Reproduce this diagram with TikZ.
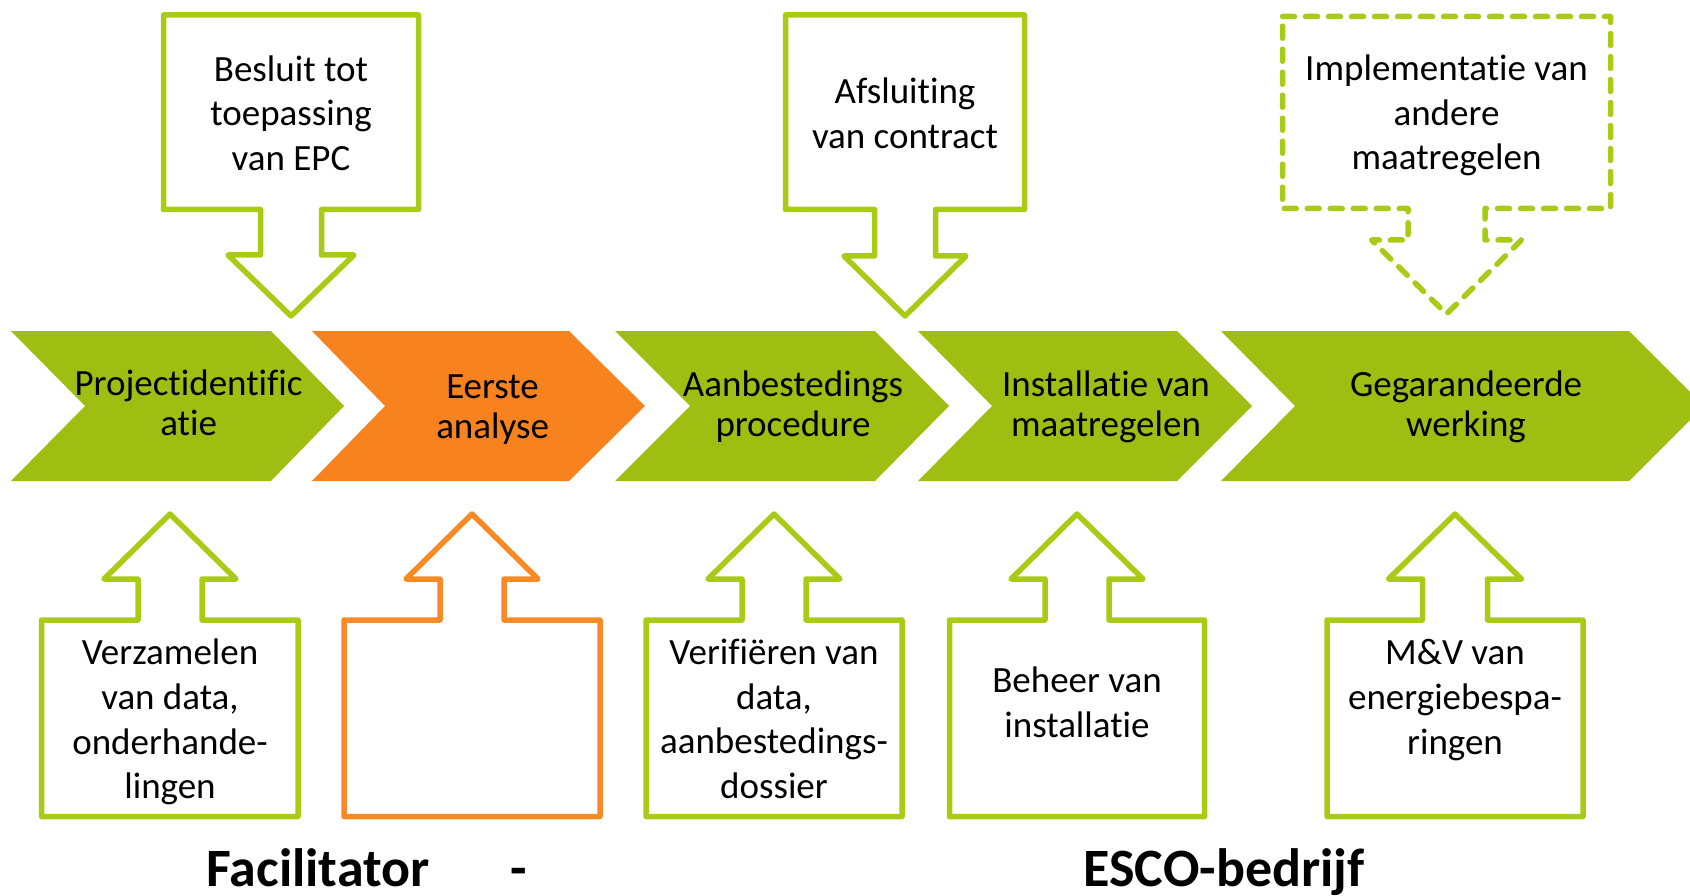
\documentclass[tikz,border=0pt]{standalone}
\usepackage{fontspec}
\setmainfont[RawFeature={-liga;-clig;-dlig;-calt}]{Carlito}
\definecolor{chevgreen}{RGB}{158,190,18}
\definecolor{linegreen}{RGB}{168,204,22}
\definecolor{chevorange}{RGB}{247,130,30}
\definecolor{lineorange}{RGB}{248,138,38}
% chevron: #1 left, #2 notch, #3 flat end, #4 tip
\newcommand\mychev[5]{\fill[#5] (#1,331) -- (#3,331) -- (#4,406) -- (#3,481) -- (#1,481) -- (#2,406) -- cycle;}
% callout: L,R,T,B,cx,sw,S,hw,tip
\newcommand\mydown[9]{(#1,#3) -- (#2,#3) -- (#2,#4) -- ({#5+#6},#4) -- ({#5+#6},#7) -- ({#5+#8},#7) -- (#5,#9) -- ({#5-#8},#7) -- ({#5-#6},#7) -- ({#5-#6},#4) -- (#1,#4) -- cycle}
\begin{document}
\begin{tikzpicture}[x=1pt,y=-1pt,
  boxline/.style={draw=linegreen, line width=5.5pt, line join=round, fill=white},
  orangeline/.style={draw=lineorange, line width=5.5pt, line join=round, fill=white},
  dashline/.style={draw=linegreen, line width=5.5pt, line join=round, line cap=round, dash pattern=on 12pt off 11pt, fill=white},
  boxtxt/.style={font=\fontsize{37}{44.7}\selectfont, align=center, inner sep=0pt, text=black},
  chevtxt/.style={font=\fontsize{37}{40}\selectfont, align=center, inner sep=0pt, text=black},
  roletxt/.style={font=\fontsize{54}{60}\selectfont\bfseries, anchor=base, inner sep=0pt, text=black}]
\useasboundingbox (0,0) rectangle (1690,896);

% chevrons
\mychev{11}{85}{271}{344}{chevgreen}
\mychev{312}{385}{569}{645}{chevorange}
\mychev{615}{690}{875}{949}{chevgreen}
\mychev{918}{992}{1177}{1252}{chevgreen}
\begin{scope}
\clip (0,0) rectangle (1690,896);
\mychev{1221}{1295}{1629}{1704}{chevgreen}
\end{scope}

% top callouts
\draw[boxline] \mydown{163.5}{418.5}{15}{209.5}{291}{30.5}{255}{63}{316};
\draw[boxline] \mydown{785.5}{1024.5}{15}{209.5}{905}{30.5}{256}{61}{316};
\draw[dashline] \mydown{1282.5}{1610.5}{16.5}{208.5}{1446.5}{38.5}{240}{75}{314};

% bottom callouts (pointing up)
\draw[boxline] \mydown{41.5}{298}{816.5}{620}{170}{32}{579}{66}{514};
\draw[orangeline] \mydown{344}{600}{816.5}{620}{472}{32}{579}{66}{514};
\draw[boxline] \mydown{646}{902}{816.5}{620}{774}{32}{579}{66}{514};
\draw[boxline] \mydown{949.5}{1204.5}{816.5}{620}{1077}{32}{579}{66}{514};
\draw[boxline] \mydown{1327}{1583}{816.5}{620}{1455}{32.5}{579}{66.5}{514};

% texts
\node[boxtxt] (t1) at (291,113) {Besluit tot\\toepassing\\van EPC};
\node[boxtxt] (t2) at (905,113) {Afsluiting\\van contract};
\node[boxtxt] (t3) at (1446.5,115.5) {Implementatie van\\andere\\maatregelen};

\node[chevtxt] (c1) at (188.6,403) {Projectidentific\\atie};
\node[chevtxt] (c2) at (492.6,410) {Eerste\\analyse};
\node[chevtxt] (c3) at (793,407) {Aanbestedings\\procedure};
\node[chevtxt] (c4) at (1106,407) {Installatie van\\maatregelen};
\node[chevtxt] (c5) at (1466,407) {Gegarandeerde\\werking};

\node[boxtxt] (b1) at (170,722) {Verzamelen\\van data,\\onderhande-\\lingen};
\node[boxtxt] (b3) at (774,719) {Verifiëren van\\data,\\aanbestedings-\\dossier};
\node[boxtxt] (b4) at (1077,702) {Beheer van\\installatie};
\node[boxtxt] (b5) at (1455,700) {M\&V van\\energiebespa-\\ringen};

\node[roletxt] (fac) at (318,886) {Facilitator};
\node[roletxt] (dash) at (518.6,886) {-};
\node[roletxt] (esco) at (1224,886) {ESCO-bedrijf};
\end{tikzpicture}
\end{document}
